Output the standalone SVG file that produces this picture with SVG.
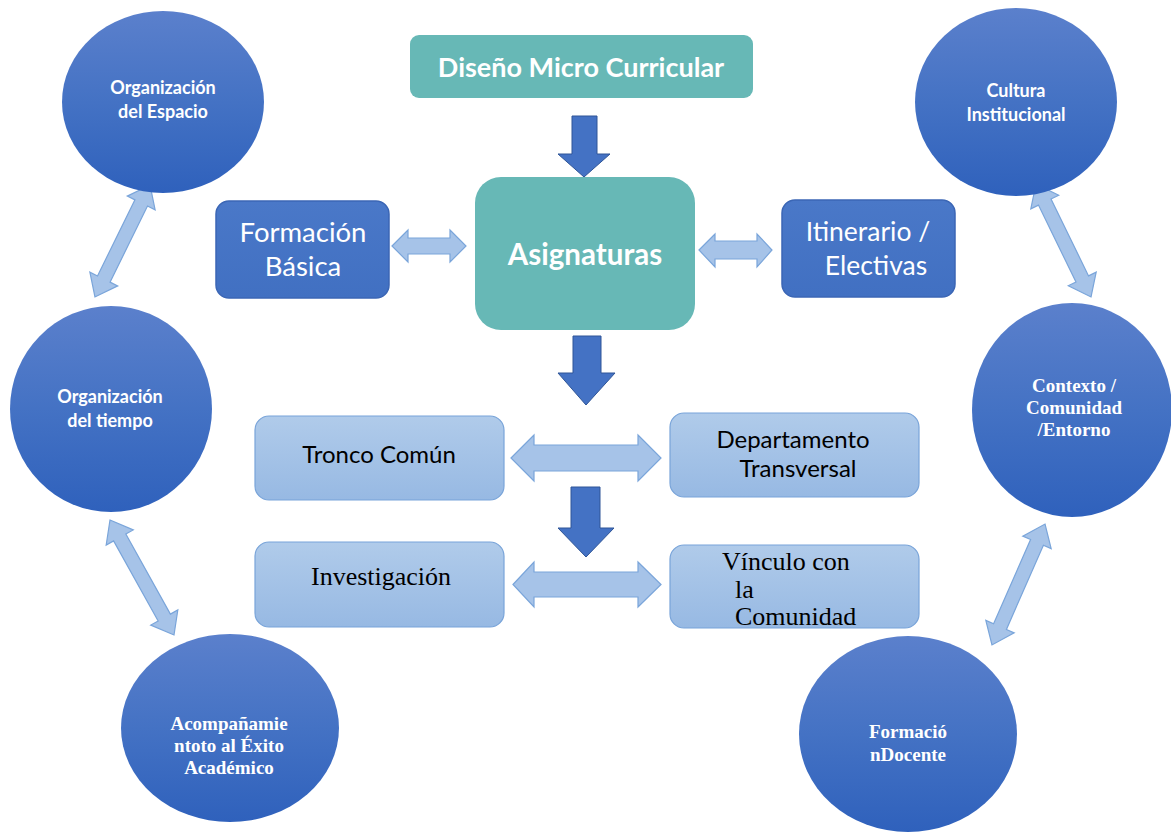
<svg xmlns="http://www.w3.org/2000/svg" width="1171" height="832" viewBox="0 0 1171 832">
<defs>
<linearGradient id="gCircle" x1="0" y1="0" x2="0" y2="1">
<stop offset="0" stop-color="#5b80cc"/>
<stop offset="0.5" stop-color="#4472c4"/>
<stop offset="1" stop-color="#2f61bc"/>
</linearGradient>
<linearGradient id="gLight" x1="0" y1="0" x2="0" y2="1">
<stop offset="0" stop-color="#b0cbea"/>
<stop offset="1" stop-color="#97b9e3"/>
</linearGradient>
<linearGradient id="gDark" x1="0" y1="0" x2="0" y2="1">
<stop offset="0" stop-color="#4a78c8"/>
<stop offset="1" stop-color="#4170c2"/>
</linearGradient>
</defs>
<style>
.circle{fill:url(#gCircle);}
.teal{fill:#67b8b6;}
.dark{fill:url(#gDark);stroke:#3b66b5;stroke-width:1.5;}
.light{fill:url(#gLight);stroke:#79a4d9;stroke-width:1.2;}
.down{fill:#4472c4;stroke:#2f5597;stroke-width:1;}
.dbl{fill:#a6c3e8;stroke:#7aa5da;stroke-width:1.2;}
.cs{font-family:Lato,"Open Sans",sans-serif;font-weight:bold;font-size:18px;fill:#ffffff;text-anchor:middle;}
.cb{font-family:"Liberation Serif",serif;font-weight:bold;font-size:19px;fill:#ffffff;text-anchor:middle;}
.wt{font-family:Lato,"Open Sans",sans-serif;fill:#ffffff;text-anchor:middle;}
.bk{font-family:Lato,"Open Sans",sans-serif;font-size:24px;fill:#000000;text-anchor:middle;}
.sr{font-family:"Liberation Serif",serif;font-size:26px;fill:#000000;}
</style>

<g id="connectors">
<polygon class="down" points="572,116 597,116 597,154 610,154 584,177 558,154 572,154"/>
<polygon class="down" points="573,336 601,336 601,373 615,373 586,405 558,373 573,373"/>
<polygon class="down" points="571,487 600,487 600,528 614,528 586,557 558,528 571,528"/>
<polygon class="dbl" points="392,246 408,230 408,238 450,238 450,230 466,246 450,262 450,254 408,254 408,262"/>
<polygon class="dbl" points="699,250 715,234 715,241 757,241 757,234 772,250 757,267 757,259 715,259 715,267"/>
<polygon class="dbl" points="511,458 534,435 534,445 638,445 638,435 661,458 638,481 638,471 534,471 534,481"/>
<polygon class="dbl" points="513,584.5 534,562 534,572 638,572 638,562 661,584.5 638,607 638,597 534,597 534,607"/>
<polygon class="dbl" transform="translate(122.5,241) rotate(116.2)" points="-62.4,0 -42.4,-15.5 -42.4,-7 42.4,-7 42.4,-15.5 62.4,0 42.4,15.5 42.4,7 -42.4,7 -42.4,15.5"/>
<polygon class="dbl" transform="translate(142,577.5) rotate(60.9)" points="-65.8,0 -45.8,-15.5 -45.8,-7 45.8,-7 45.8,-15.5 65.8,0 45.8,15.5 45.8,7 -45.8,7 -45.8,15.5"/>
<polygon class="dbl" transform="translate(1063.5,240.5) rotate(64)" points="-62.8,0 -42.8,-15.5 -42.8,-7 42.8,-7 42.8,-15.5 62.8,0 42.8,15.5 42.8,7 -42.8,7 -42.8,15.5"/>
<polygon class="dbl" transform="translate(1018.5,584.5) rotate(113.7)" points="-66,0 -46,-15.5 -46,-7 46,-7 46,-15.5 66,0 46,15.5 46,7 -46,7 -46,15.5"/>
</g>

<g id="n-espacio">
<ellipse class="circle" cx="163" cy="102" rx="101" ry="91"/>
<text class="cs" x="163" y="94">Organización</text>
<text class="cs" x="163" y="118">del Espacio</text>
</g>
<g id="n-tiempo">
<ellipse class="circle" cx="111" cy="409" rx="101" ry="103"/>
<text class="cs" x="110" y="403">Organización</text>
<text class="cs" x="110" y="427">del tiempo</text>
</g>
<g id="n-acompanamiento">
<ellipse class="circle" cx="230" cy="728" rx="109" ry="94"/>
<text class="cb" x="229" y="730">Acompañamie</text>
<text class="cb" x="229" y="752">ntoto al Éxito</text>
<text class="cb" x="229" y="774">Académico</text>
</g>
<g id="n-cultura">
<ellipse class="circle" cx="1016" cy="102" rx="101" ry="94"/>
<text class="cs" x="1016" y="97">Cultura</text>
<text class="cs" x="1016" y="121">Institucional</text>
</g>
<g id="n-contexto">
<ellipse class="circle" cx="1072" cy="410" rx="100" ry="107"/>
<text class="cb" x="1074" y="392">Contexto /</text>
<text class="cb" x="1074" y="414">Comunidad</text>
<text class="cb" x="1074" y="436">/Entorno</text>
</g>
<g id="n-docente">
<ellipse class="circle" cx="908" cy="734" rx="109" ry="98"/>
<text class="cb" x="908" y="738">Formació</text>
<text class="cb" x="908" y="761">nDocente</text>
</g>

<g id="n-diseno">
<rect class="teal" x="410" y="35" width="343" height="63" rx="9"/>
<text class="wt" x="581" y="77" font-size="27" font-weight="bold">Diseño Micro Curricular</text>
</g>
<g id="n-asignaturas">
<rect class="teal" x="475" y="177" width="220" height="153" rx="26"/>
<text class="wt" x="585" y="265" font-size="29.5" font-weight="bold">Asignaturas</text>
</g>
<g id="n-basica">
<rect class="dark" x="216" y="201" width="173" height="97" rx="13"/>
<text class="wt" x="303" y="242" font-size="27.5">Formación</text>
<text class="wt" x="303" y="276" font-size="27.5">Básica</text>
</g>
<g id="n-itinerario">
<rect class="dark" x="782" y="200" width="173" height="97" rx="13"/>
<text class="wt" x="868" y="241" font-size="26.5">Itinerario /</text>
<text class="wt" x="876" y="275" font-size="26.5">Electivas</text>
</g>
<g id="n-tronco">
<rect class="light" x="255" y="416" width="249" height="84" rx="14"/>
<text class="bk" x="379" y="463">Tronco Común</text>
</g>
<g id="n-departamento">
<rect class="light" x="670" y="413" width="249" height="84" rx="14"/>
<text class="bk" x="793" y="448">Departamento</text>
<text class="bk" x="798" y="477">Transversal</text>
</g>
<g id="n-investigacion">
<rect class="light" x="255" y="542" width="249" height="85" rx="14"/>
<text class="sr" x="311" y="585">Investigación</text>
</g>
<g id="n-vinculo">
<rect class="light" x="670" y="545" width="249" height="83" rx="14"/>
<text class="sr" x="722" y="570">Vínculo con</text>
<text class="sr" x="735" y="598">la</text>
<text class="sr" x="735" y="625">Comunidad</text>
</g>
</svg>
